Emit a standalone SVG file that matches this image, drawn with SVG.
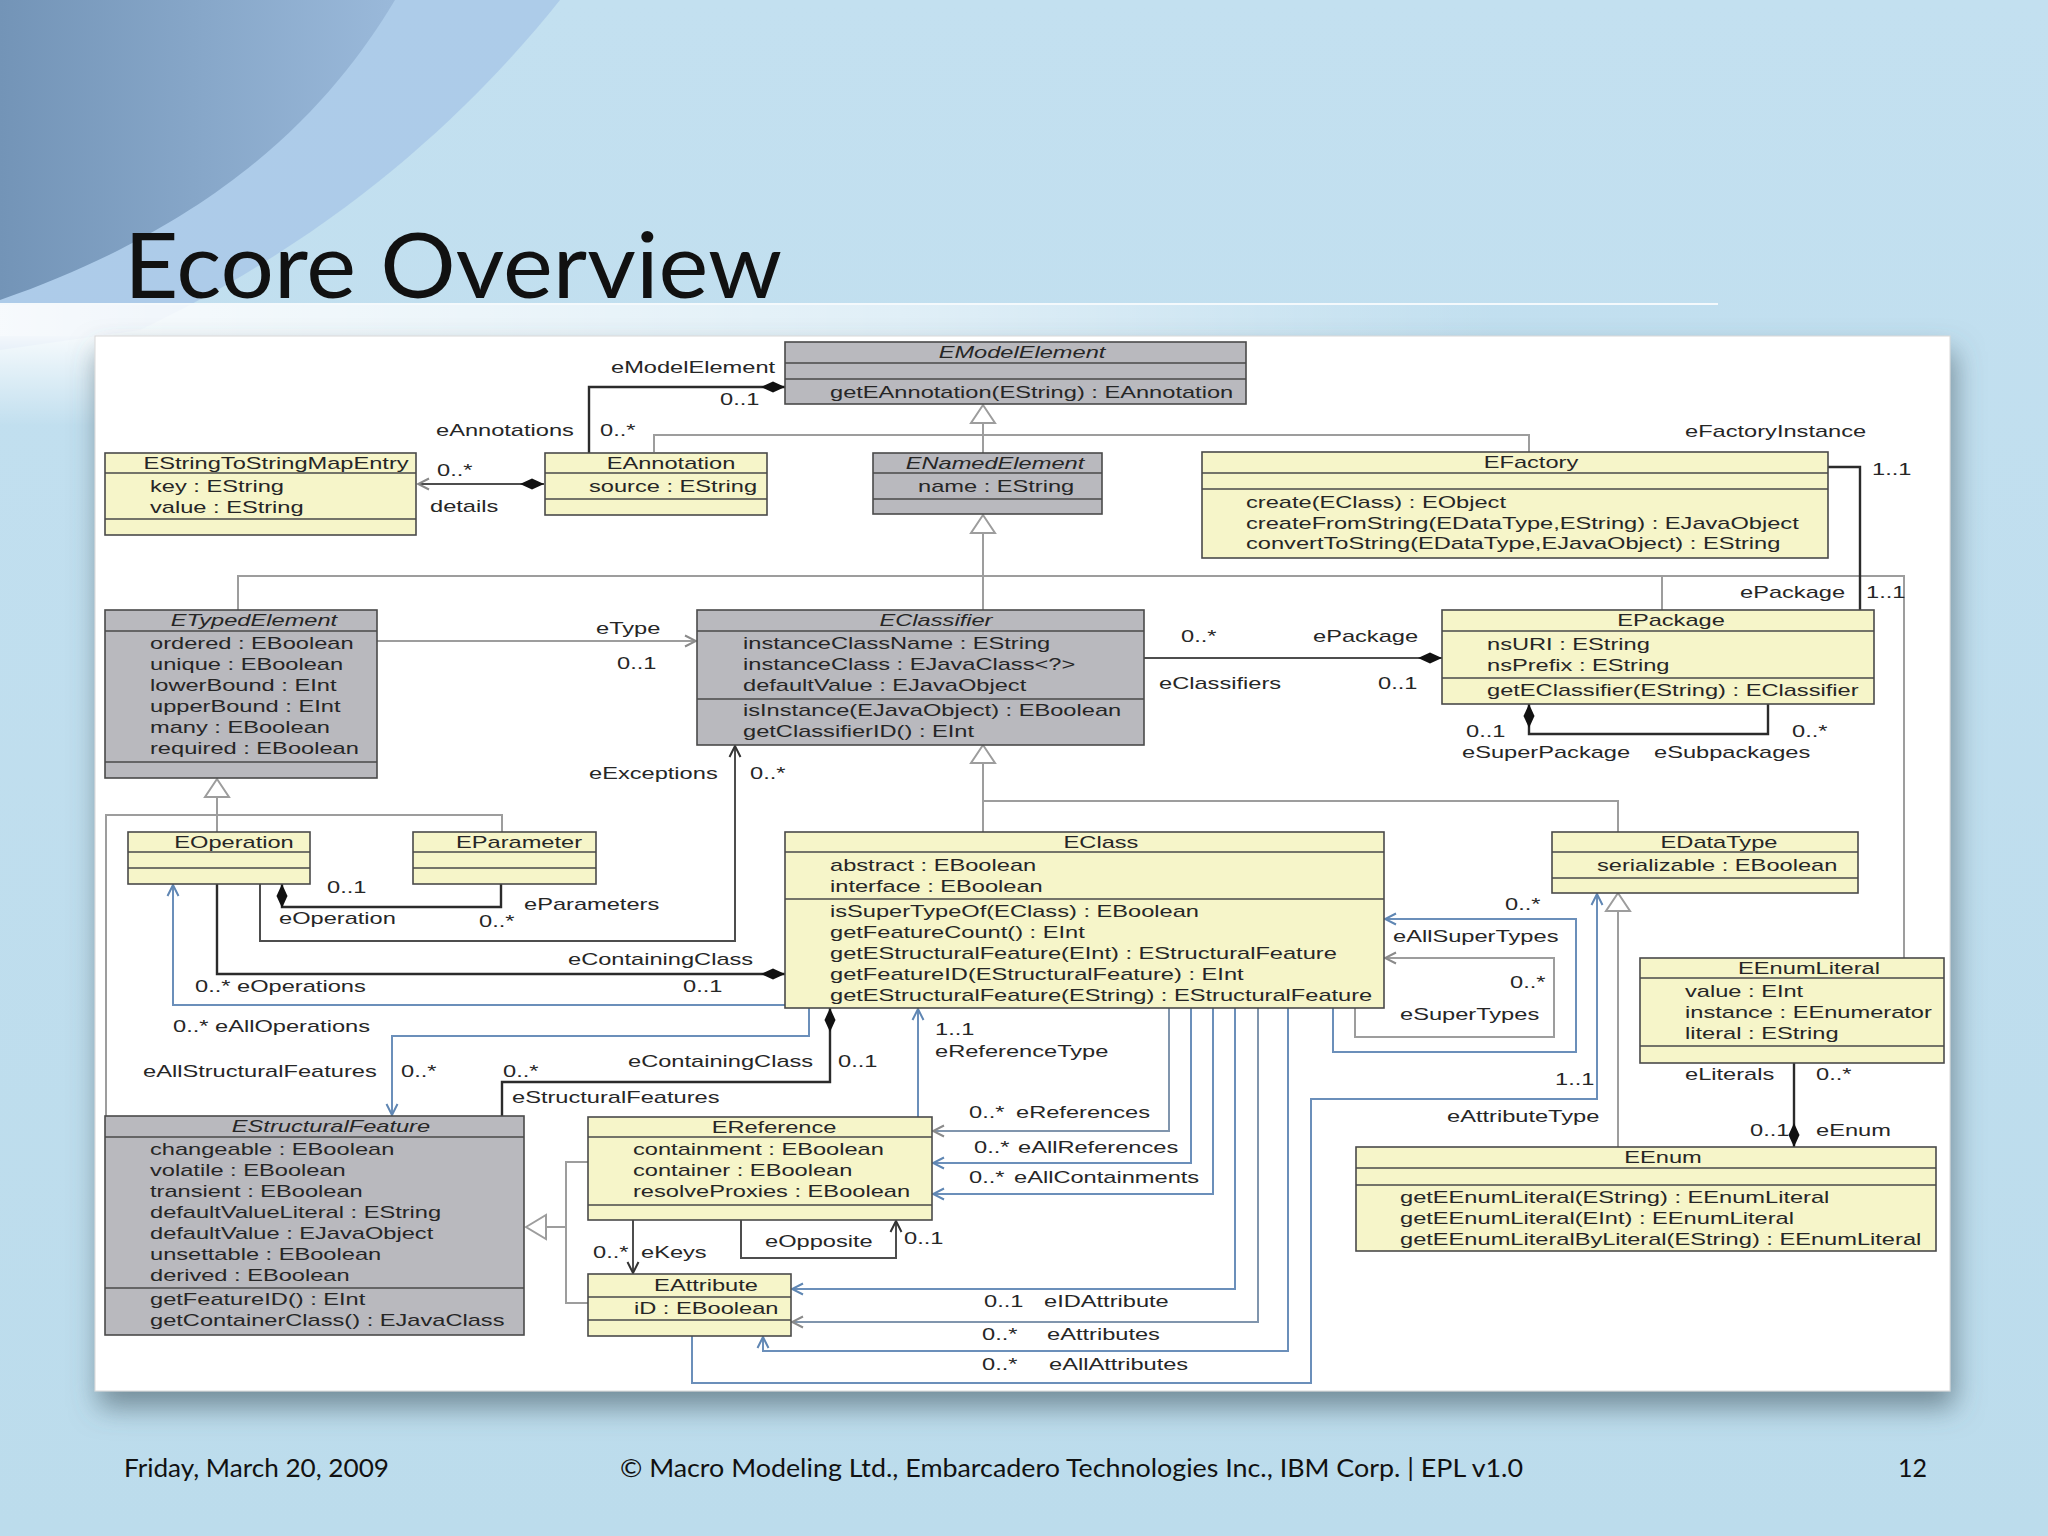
<svg xmlns="http://www.w3.org/2000/svg" width="2048" height="1536" viewBox="0 0 2048 1536">
<defs>
<linearGradient id="bg" x1="0" y1="0" x2="0" y2="1"><stop offset="0" stop-color="#c3e0f0"/><stop offset="1" stop-color="#bcdcec"/></linearGradient>
<linearGradient id="dark" x1="0" y1="0" x2="1" y2="0"><stop offset="0" stop-color="#7394b7"/><stop offset="1" stop-color="#9ab9da"/></linearGradient>
<linearGradient id="haze" x1="0" y1="0" x2="1" y2="0"><stop offset="0" stop-color="#ffffff" stop-opacity="0.9"/><stop offset="0.6" stop-color="#ffffff" stop-opacity="0.5"/><stop offset="1" stop-color="#ffffff" stop-opacity="0"/></linearGradient>
<linearGradient id="hazeV" x1="0" y1="0" x2="0" y2="1"><stop offset="0" stop-color="#ffffff" stop-opacity="0.85"/><stop offset="1" stop-color="#ffffff" stop-opacity="0"/></linearGradient>
<filter id="shadow" x="-5%" y="-5%" width="110%" height="115%"><feDropShadow dx="4" dy="16" stdDeviation="14" flood-color="#4d606d" flood-opacity="0.65"/></filter>
<marker id="dia" markerUnits="userSpaceOnUse" viewBox="0 -7 26 14" refX="0" refY="0" markerWidth="26" markerHeight="14" orient="auto"><path d="M0,0 L12,-5.5 L24,0 L12,5.5 Z" fill="#111"/></marker>
<marker id="arD" markerUnits="userSpaceOnUse" viewBox="-14 -8 16 16" refX="0" refY="0" markerWidth="16" markerHeight="16" orient="auto"><path d="M-11,-5.5 L0,0 L-11,5.5" fill="none" stroke="#333" stroke-width="2"/></marker>
<marker id="arG" markerUnits="userSpaceOnUse" viewBox="-14 -8 16 16" refX="0" refY="0" markerWidth="16" markerHeight="16" orient="auto"><path d="M-11,-5.5 L0,0 L-11,5.5" fill="none" stroke="#8a8a8a" stroke-width="2"/></marker>
<marker id="arB" markerUnits="userSpaceOnUse" viewBox="-14 -8 16 16" refX="0" refY="0" markerWidth="16" markerHeight="16" orient="auto"><path d="M-11,-5.5 L0,0 L-11,5.5" fill="none" stroke="#5f86b3" stroke-width="2"/></marker>
<style>
.box{stroke:#4a4a4a;stroke-width:1.6}
.y{fill:#f6f5c9}
.g{fill:#b9b9be}
.sep{stroke:#4a4a4a;stroke-width:1.6}
.t{font-family:"Liberation Sans",Arial,sans-serif;font-size:17px;fill:#262626}
.c{text-anchor:middle}
.i{font-style:italic}
.blk{fill:none;stroke:#2b2b2b;stroke-width:2.4}
.dk{fill:none;stroke:#4d4d4d;stroke-width:2}
.gry{fill:none;stroke:#9d9d9d;stroke-width:2}
.bg2{fill:none;stroke:#8095ad;stroke-width:2}
.blu{fill:none;stroke:#6b8fba;stroke-width:2}
.tri{fill:#ffffff;stroke:#9d9d9d;stroke-width:2}
.slide{font-family:Lato,"Open Sans",sans-serif;fill:#111}
</style>
</defs>

<!-- slide background -->
<rect x="0" y="0" width="2048" height="1536" fill="url(#bg)"/>
<path d="M0,0 H560 C480,100 350,230 140,330 L0,350 Z" fill="#a9c8e8" opacity="0.85"/>
<path d="M0,0 H395 C335,100 230,220 0,300 Z" fill="url(#dark)"/>
<rect x="0" y="304" width="1500" height="32" fill="url(#haze)"/>
<rect x="0" y="336" width="95" height="90" fill="url(#hazeV)"/>
<line x1="0" y1="304" x2="1718" y2="304" stroke="#f4f9fc" stroke-width="2"/>
<text class="slide" x="124" y="298" font-size="92" textLength="658" lengthAdjust="spacingAndGlyphs">Ecore Overview</text>

<rect x="95" y="336" width="1855" height="1055" fill="#ffffff" stroke="#d8d8d8" filter="url(#shadow)"/>

<text class="slide" x="124" y="1477" font-size="25" textLength="265" lengthAdjust="spacingAndGlyphs">Friday, March 20, 2009</text>
<text class="slide" x="620" y="1477" font-size="25" textLength="903" lengthAdjust="spacingAndGlyphs">© Macro Modeling Ltd., Embarcadero Technologies Inc., IBM Corp. | EPL v1.0</text>
<text class="slide" x="1898" y="1477" font-size="25">12</text>

<!-- connectors -->
<g id="connectors">
  <!-- generalizations -->
  <path class="gry" d="M654,452 V435 H1529 V452 M983,423 V453"/>
  <polygon class="tri" points="983,405 971,423 995,423"/>
  <path class="gry" d="M238,610 V576 H1904 V958 M1662,576 V610 M983,533 V610"/>
  <polygon class="tri" points="983,515 971,533 995,533"/>
  <path class="gry" d="M983,763 V832 M983,801 H1618 V832"/>
  <polygon class="tri" points="983,745 971,763 995,763"/>
  <path class="gry" d="M1618,911 V1147"/>
  <polygon class="tri" points="1618,893 1606,911 1630,911"/>
  <path class="gry" d="M217,797 V832 M106,1116 V815 H502 V832"/>
  <polygon class="tri" points="217,779 205,797 229,797"/>
  <path class="gry" d="M546,1227 H566 M588,1162 H566 V1303 H588"/>
  <polygon class="tri" points="526,1227 546,1215 546,1239"/>

  <!-- associations -->
  <path class="blk" d="M785,387 H589 V453" marker-start="url(#dia)"/>
  <path class="dk" d="M544,484 H418" marker-start="url(#dia)" marker-end="url(#arG)"/>
  <path class="gry" d="M377,641 H696" marker-end="url(#arG)"/>
  <path class="dk" d="M1442,658 H1144" marker-start="url(#dia)"/>
  <path class="blk" d="M1828,467 H1860 V610"/>
  <path class="blk" d="M1529,704 V734 H1768 V704" marker-start="url(#dia)"/>
  <path class="dk" d="M260,884 V941 H735 V746" marker-end="url(#arD)"/>
  <path class="blk" d="M282,884 V907 H501 V884" marker-start="url(#dia)"/>
  <path class="blk" d="M785,974 H217 V884" marker-start="url(#dia)"/>
  <path class="blu" d="M785,1005 H173 V885" marker-end="url(#arB)"/>
  <path class="blk" d="M830,1008 V1082 H502 V1116" marker-start="url(#dia)"/>
  <path class="blu" d="M809,1008 V1036 H392 V1115" marker-end="url(#arB)"/>
  <path class="blu" d="M918,1117 V1009" marker-end="url(#arB)"/>
  <path class="bg2" d="M1169,1008 V1131 H933" marker-end="url(#arG)"/>
  <path class="blu" d="M1191,1008 V1163 H933" marker-end="url(#arB)"/>
  <path class="blu" d="M1213,1008 V1194 H933" marker-end="url(#arB)"/>
  <path class="blu" d="M1235,1008 V1289 H792" marker-end="url(#arB)"/>
  <path class="bg2" d="M1258,1008 V1322 H792" marker-end="url(#arG)"/>
  <path class="blu" d="M1288,1008 V1351 H763 V1337" marker-end="url(#arB)"/>
  <path class="blu" d="M1333,1008 V1052 H1576 V919 H1385" marker-end="url(#arB)"/>
  <path class="gry" d="M1355,1008 V1037 H1554 V958 H1385" marker-end="url(#arG)"/>
  <path class="blu" d="M692,1336 V1383 H1311 V1099 H1597 V894" marker-end="url(#arB)"/>
  <path class="blk" d="M1794,1147 V1063" marker-start="url(#dia)"/>
  <path class="dk" d="M633,1220 V1273" marker-end="url(#arD)"/>
  <path class="dk" d="M741,1220 V1258 H896 V1221" marker-end="url(#arD)"/>

  <!-- labels -->
  <g class="t">
    <text transform="translate(611,373) scale(1.39,1)">eModelElement</text>
    <text transform="translate(720,405) scale(1.39,1)">0..1</text>
    <text transform="translate(436,436) scale(1.39,1)">eAnnotations</text>
    <text transform="translate(600,436) scale(1.39,1)">0..*</text>
    <text transform="translate(437,476) scale(1.39,1)">0..*</text>
    <text transform="translate(430,512) scale(1.39,1)">details</text>
    <text transform="translate(1685,437) scale(1.39,1)">eFactoryInstance</text>
    <text transform="translate(1872,475) scale(1.39,1)">1..1</text>
    <text transform="translate(1740,598) scale(1.39,1)">ePackage</text>
    <text transform="translate(1866,598) scale(1.39,1)">1..1</text>
    <text transform="translate(596,634) scale(1.39,1)">eType</text>
    <text transform="translate(617,669) scale(1.39,1)">0..1</text>
    <text transform="translate(1181,642) scale(1.39,1)">0..*</text>
    <text transform="translate(1313,642) scale(1.39,1)">ePackage</text>
    <text transform="translate(1159,689) scale(1.39,1)">eClassifiers</text>
    <text transform="translate(1378,689) scale(1.39,1)">0..1</text>
    <text transform="translate(1466,737) scale(1.39,1)">0..1</text>
    <text transform="translate(1462,758) scale(1.39,1)">eSuperPackage</text>
    <text transform="translate(1654,758) scale(1.39,1)">eSubpackages</text>
    <text transform="translate(1792,737) scale(1.39,1)">0..*</text>
    <text transform="translate(589,779) scale(1.39,1)">eExceptions</text>
    <text transform="translate(750,779) scale(1.39,1)">0..*</text>
    <text transform="translate(327,893) scale(1.39,1)">0..1</text>
    <text transform="translate(279,924) scale(1.39,1)">eOperation</text>
    <text transform="translate(479,927) scale(1.39,1)">0..*</text>
    <text transform="translate(524,910) scale(1.39,1)">eParameters</text>
    <text transform="translate(568,965) scale(1.39,1)">eContainingClass</text>
    <text transform="translate(683,992) scale(1.39,1)">0..1</text>
    <text transform="translate(195,992) scale(1.39,1)">0..* eOperations</text>
    <text transform="translate(173,1032) scale(1.39,1)">0..* eAllOperations</text>
    <text transform="translate(1505,910) scale(1.39,1)">0..*</text>
    <text transform="translate(1393,942) scale(1.39,1)">eAllSuperTypes</text>
    <text transform="translate(1510,988) scale(1.39,1)">0..*</text>
    <text transform="translate(1400,1020) scale(1.39,1)">eSuperTypes</text>
    <text transform="translate(935,1035) scale(1.39,1)">1..1</text>
    <text transform="translate(935,1057) scale(1.39,1)">eReferenceType</text>
    <text transform="translate(143,1077) scale(1.39,1)">eAllStructuralFeatures</text>
    <text transform="translate(401,1077) scale(1.39,1)">0..*</text>
    <text transform="translate(503,1077) scale(1.39,1)">0..*</text>
    <text transform="translate(628,1067) scale(1.39,1)">eContainingClass</text>
    <text transform="translate(838,1067) scale(1.39,1)">0..1</text>
    <text transform="translate(512,1103) scale(1.39,1)">eStructuralFeatures</text>
    <text transform="translate(1555,1085) scale(1.39,1)">1..1</text>
    <text transform="translate(1447,1122) scale(1.39,1)">eAttributeType</text>
    <text transform="translate(1685,1080) scale(1.39,1)">eLiterals</text>
    <text transform="translate(1816,1080) scale(1.39,1)">0..*</text>
    <text transform="translate(1750,1136) scale(1.39,1)">0..1</text>
    <text transform="translate(1816,1136) scale(1.39,1)">eEnum</text>
    <text transform="translate(969,1118) scale(1.39,1)">0..*</text>
    <text transform="translate(1016,1118) scale(1.39,1)">eReferences</text>
    <text transform="translate(974,1153) scale(1.39,1)">0..*</text>
    <text transform="translate(1018,1153) scale(1.39,1)">eAllReferences</text>
    <text transform="translate(969,1183) scale(1.39,1)">0..*</text>
    <text transform="translate(1014,1183) scale(1.39,1)">eAllContainments</text>
    <text transform="translate(593,1258) scale(1.39,1)">0..*</text>
    <text transform="translate(641,1258) scale(1.39,1)">eKeys</text>
    <text transform="translate(765,1247) scale(1.39,1)">eOpposite</text>
    <text transform="translate(904,1244) scale(1.39,1)">0..1</text>
    <text transform="translate(984,1307) scale(1.39,1)">0..1</text>
    <text transform="translate(1044,1307) scale(1.39,1)">eIDAttribute</text>
    <text transform="translate(982,1340) scale(1.39,1)">0..*</text>
    <text transform="translate(1047,1340) scale(1.39,1)">eAttributes</text>
    <text transform="translate(982,1370) scale(1.39,1)">0..*</text>
    <text transform="translate(1049,1370) scale(1.39,1)">eAllAttributes</text>
  </g>
</g>

<!-- nodes -->
<g id="EModelElement">
  <rect class="box g" x="785" y="342" width="461" height="62"/>
  <path class="sep" d="M785,363 H1246 M785,379 H1246"/>
  <text class="t c i" transform="translate(1022,358) scale(1.39,1)">EModelElement</text>
  <text class="t" transform="translate(830,398) scale(1.39,1)">getEAnnotation(EString) : EAnnotation</text>
</g>
<g id="ENamedElement">
  <rect class="box g" x="873" y="453" width="229" height="61"/>
  <path class="sep" d="M873,473 H1102 M873,499 H1102"/>
  <text class="t c i" transform="translate(995,469) scale(1.39,1)">ENamedElement</text>
  <text class="t" transform="translate(918,492) scale(1.39,1)">name : EString</text>
</g>
<g id="EAnnotation">
  <rect class="box y" x="545" y="453" width="222" height="62"/>
  <path class="sep" d="M545,473 H767 M545,499 H767"/>
  <text class="t c" transform="translate(671,469) scale(1.39,1)">EAnnotation</text>
  <text class="t" transform="translate(589,492) scale(1.39,1)">source : EString</text>
</g>
<g id="EStringToStringMapEntry">
  <rect class="box y" x="105" y="453" width="311" height="82"/>
  <path class="sep" d="M105,473 H416 M105,519 H416"/>
  <text class="t c" transform="translate(276,469) scale(1.39,1)">EStringToStringMapEntry</text>
  <text class="t" transform="translate(150,492) scale(1.39,1)">key : EString</text>
  <text class="t" transform="translate(150,513) scale(1.39,1)">value : EString</text>
</g>
<g id="EFactory">
  <rect class="box y" x="1202" y="452" width="626" height="106"/>
  <path class="sep" d="M1202,473 H1828 M1202,489 H1828"/>
  <text class="t c" transform="translate(1531,468) scale(1.39,1)">EFactory</text>
  <text class="t" transform="translate(1246,508) scale(1.39,1)">create(EClass) : EObject</text>
  <text class="t" transform="translate(1246,529) scale(1.39,1)">createFromString(EDataType,EString) : EJavaObject</text>
  <text class="t" transform="translate(1246,549) scale(1.39,1)">convertToString(EDataType,EJavaObject) : EString</text>
</g>
<g id="EPackage">
  <rect class="box y" x="1442" y="610" width="432" height="94"/>
  <path class="sep" d="M1442,631 H1874 M1442,678 H1874"/>
  <text class="t c" transform="translate(1671,626) scale(1.39,1)">EPackage</text>
  <text class="t" transform="translate(1487,650) scale(1.39,1)">nsURI : EString</text>
  <text class="t" transform="translate(1487,671) scale(1.39,1)">nsPrefix : EString</text>
  <text class="t" transform="translate(1487,696) scale(1.39,1)">getEClassifier(EString) : EClassifier</text>
</g>
<g id="EClassifier">
  <rect class="box g" x="697" y="610" width="447" height="135"/>
  <path class="sep" d="M697,631 H1144 M697,699 H1144"/>
  <text class="t c i" transform="translate(936,626) scale(1.39,1)">EClassifier</text>
  <text class="t" transform="translate(743,649) scale(1.39,1)">instanceClassName : EString</text>
  <text class="t" transform="translate(743,670) scale(1.39,1)">instanceClass : EJavaClass&lt;?&gt;</text>
  <text class="t" transform="translate(743,691) scale(1.39,1)">defaultValue : EJavaObject</text>
  <text class="t" transform="translate(743,716) scale(1.39,1)">isInstance(EJavaObject) : EBoolean</text>
  <text class="t" transform="translate(743,737) scale(1.39,1)">getClassifierID() : EInt</text>
</g>
<g id="ETypedElement">
  <rect class="box g" x="105" y="610" width="272" height="168"/>
  <path class="sep" d="M105,631 H377 M105,762 H377"/>
  <text class="t c i" transform="translate(254,626) scale(1.39,1)">ETypedElement</text>
  <text class="t" transform="translate(150,649) scale(1.39,1)">ordered : EBoolean</text>
  <text class="t" transform="translate(150,670) scale(1.39,1)">unique : EBoolean</text>
  <text class="t" transform="translate(150,691) scale(1.39,1)">lowerBound : EInt</text>
  <text class="t" transform="translate(150,712) scale(1.39,1)">upperBound : EInt</text>
  <text class="t" transform="translate(150,733) scale(1.39,1)">many : EBoolean</text>
  <text class="t" transform="translate(150,754) scale(1.39,1)">required : EBoolean</text>
</g>
<g id="EOperation">
  <rect class="box y" x="128" y="832" width="182" height="52"/>
  <path class="sep" d="M128,852 H310 M128,868 H310"/>
  <text class="t c" transform="translate(234,848) scale(1.39,1)">EOperation</text>
</g>
<g id="EParameter">
  <rect class="box y" x="413" y="832" width="183" height="52"/>
  <path class="sep" d="M413,852 H596 M413,868 H596"/>
  <text class="t c" transform="translate(519,848) scale(1.39,1)">EParameter</text>
</g>
<g id="EClass">
  <rect class="box y" x="785" y="832" width="599" height="176"/>
  <path class="sep" d="M785,852 H1384 M785,899 H1384"/>
  <text class="t c" transform="translate(1101,848) scale(1.39,1)">EClass</text>
  <text class="t" transform="translate(830,871) scale(1.39,1)">abstract : EBoolean</text>
  <text class="t" transform="translate(830,892) scale(1.39,1)">interface : EBoolean</text>
  <text class="t" transform="translate(830,917) scale(1.39,1)">isSuperTypeOf(EClass) : EBoolean</text>
  <text class="t" transform="translate(830,938) scale(1.39,1)">getFeatureCount() : EInt</text>
  <text class="t" transform="translate(830,959) scale(1.39,1)">getEStructuralFeature(EInt) : EStructuralFeature</text>
  <text class="t" transform="translate(830,980) scale(1.39,1)">getFeatureID(EStructuralFeature) : EInt</text>
  <text class="t" transform="translate(830,1001) scale(1.39,1)">getEStructuralFeature(EString) : EStructuralFeature</text>
</g>
<g id="EDataType">
  <rect class="box y" x="1552" y="832" width="306" height="61"/>
  <path class="sep" d="M1552,852 H1858 M1552,878 H1858"/>
  <text class="t c" transform="translate(1719,848) scale(1.39,1)">EDataType</text>
  <text class="t" transform="translate(1597,871) scale(1.39,1)">serializable : EBoolean</text>
</g>
<g id="EEnumLiteral">
  <rect class="box y" x="1640" y="958" width="304" height="105"/>
  <path class="sep" d="M1640,978 H1944 M1640,1046 H1944"/>
  <text class="t c" transform="translate(1809,974) scale(1.39,1)">EEnumLiteral</text>
  <text class="t" transform="translate(1685,997) scale(1.39,1)">value : EInt</text>
  <text class="t" transform="translate(1685,1018) scale(1.39,1)">instance : EEnumerator</text>
  <text class="t" transform="translate(1685,1039) scale(1.39,1)">literal : EString</text>
</g>
<g id="EEnum">
  <rect class="box y" x="1356" y="1147" width="580" height="104"/>
  <path class="sep" d="M1356,1168 H1936 M1356,1185 H1936"/>
  <text class="t c" transform="translate(1663,1163) scale(1.39,1)">EEnum</text>
  <text class="t" transform="translate(1400,1203) scale(1.39,1)">getEEnumLiteral(EString) : EEnumLiteral</text>
  <text class="t" transform="translate(1400,1224) scale(1.39,1)">getEEnumLiteral(EInt) : EEnumLiteral</text>
  <text class="t" transform="translate(1400,1245) scale(1.39,1)">getEEnumLiteralByLiteral(EString) : EEnumLiteral</text>
</g>
<g id="EStructuralFeature">
  <rect class="box g" x="105" y="1116" width="419" height="219"/>
  <path class="sep" d="M105,1137 H524 M105,1288 H524"/>
  <text class="t c i" transform="translate(331,1132) scale(1.39,1)">EStructuralFeature</text>
  <text class="t" transform="translate(150,1155) scale(1.39,1)">changeable : EBoolean</text>
  <text class="t" transform="translate(150,1176) scale(1.39,1)">volatile : EBoolean</text>
  <text class="t" transform="translate(150,1197) scale(1.39,1)">transient : EBoolean</text>
  <text class="t" transform="translate(150,1218) scale(1.39,1)">defaultValueLiteral : EString</text>
  <text class="t" transform="translate(150,1239) scale(1.39,1)">defaultValue : EJavaObject</text>
  <text class="t" transform="translate(150,1260) scale(1.39,1)">unsettable : EBoolean</text>
  <text class="t" transform="translate(150,1281) scale(1.39,1)">derived : EBoolean</text>
  <text class="t" transform="translate(150,1305) scale(1.39,1)">getFeatureID() : EInt</text>
  <text class="t" transform="translate(150,1326) scale(1.39,1)">getContainerClass() : EJavaClass</text>
</g>
<g id="EReference">
  <rect class="box y" x="588" y="1117" width="344" height="103"/>
  <path class="sep" d="M588,1137 H932 M588,1205 H932"/>
  <text class="t c" transform="translate(774,1133) scale(1.39,1)">EReference</text>
  <text class="t" transform="translate(633,1155) scale(1.39,1)">containment : EBoolean</text>
  <text class="t" transform="translate(633,1176) scale(1.39,1)">container : EBoolean</text>
  <text class="t" transform="translate(633,1197) scale(1.39,1)">resolveProxies : EBoolean</text>
</g>
<g id="EAttribute">
  <rect class="box y" x="588" y="1274" width="203" height="62"/>
  <path class="sep" d="M588,1297 H791 M588,1320 H791"/>
  <text class="t c" transform="translate(706,1291) scale(1.39,1)">EAttribute</text>
  <text class="t" transform="translate(634,1314) scale(1.39,1)">iD : EBoolean</text>
</g>
</svg>
